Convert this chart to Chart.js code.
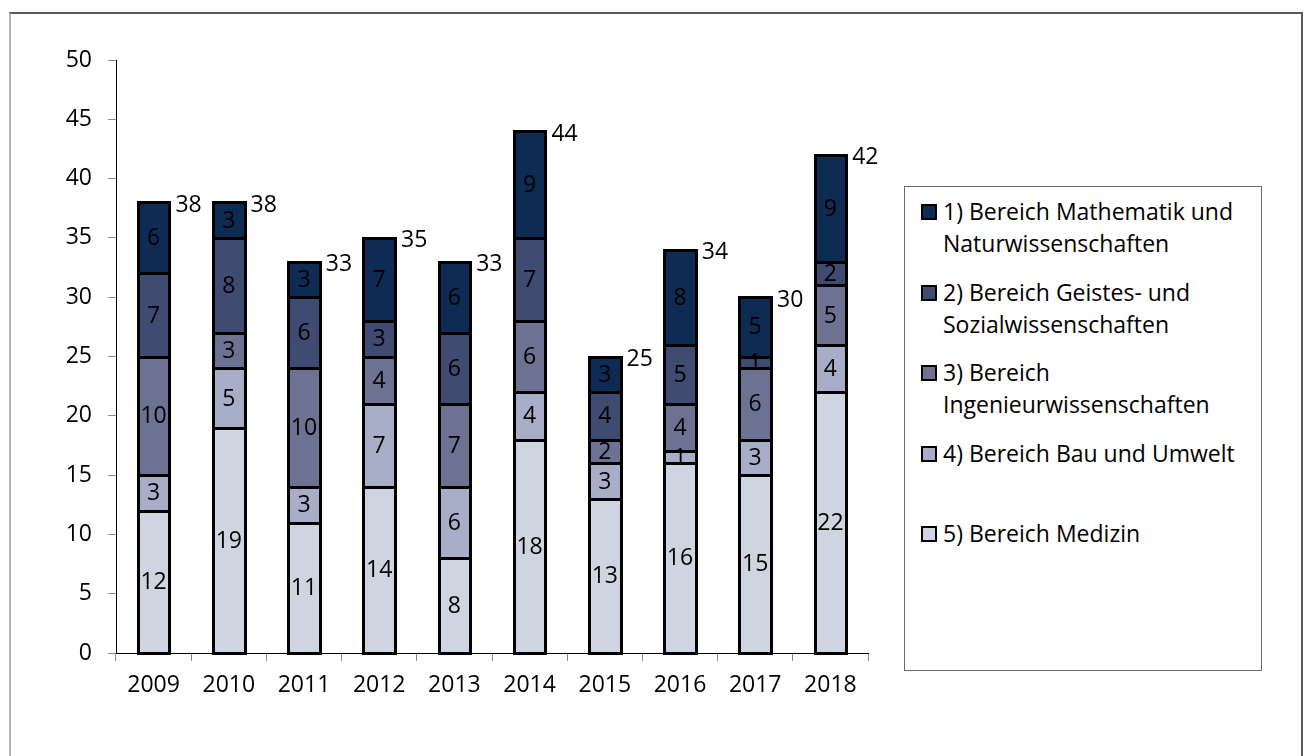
<!DOCTYPE html>
<html>
<head>
<meta charset="utf-8">
<script src="https://cdn.jsdelivr.net/npm/chart.js@4"></script>
<style>
	body { margin: 0; background: #fff; font-family: "Open Sans", sans-serif; }
	#wrap { position: relative; width: 1306px; height: 756px; overflow: hidden; }
	#frame {
		position: absolute; left: 9px; top: 12px; width: 1290px; height: 760px;
		border-left: 2px solid #b4b4b4; border-top: 2px solid #585858; border-right: 2px solid #585858;
	}
	#legend {
		position: absolute; left: 904px; top: 186px; width: 356px; height: 483px;
		border: 1px solid #6a6a6a; background: #fff;
	}
	.item { position: absolute; left: 16px; font-size: 23px; line-height: 32px; color: #000; }
	.box {
		position: absolute; left: 0; top: 9px; width: 12px; height: 12px;
		border: 2px solid #000;
	}
	.txt { position: absolute; left: 22px; white-space: nowrap; }
</style>
</head>
<body>
<div id="wrap">
	<div id="frame"></div>
	<canvas id="myChart" width="1306" height="756"></canvas>
	<div id="legend"></div>
</div>
<script>
// categories
const years = ["2009", "2010", "2011", "2012", "2013", "2014", "2015", "2016", "2017", "2018"];

// series, bottom to top
const medizin = [12, 19, 11, 14, 8, 18, 13, 16, 15, 22];
const bauUmwelt = [3, 5, 3, 7, 6, 4, 3, 1, 3, 4];
const ingenieur = [10, 3, 10, 4, 7, 6, 2, 4, 6, 5];
const geistesSozial = [7, 8, 6, 3, 6, 7, 4, 5, 1, 2];
const matheNatur = [6, 3, 3, 7, 6, 9, 3, 8, 5, 9];

const yTicks = [0, 5, 10, 15, 20, 25, 30, 35, 40, 45, 50];

const seriesNames = [
	"5) Bereich Medizin",
	"4) Bereich Bau und Umwelt",
	"3) Bereich Ingenieurwissenschaften",
	"2) Bereich Geistes- und Sozialwissenschaften",
	"1) Bereich Mathematik und Naturwissenschaften",
];
const legendLines = [
	["1) Bereich Mathematik und", "Naturwissenschaften"],
	["2) Bereich Geistes- und", "Sozialwissenschaften"],
	["3) Bereich", "Ingenieurwissenschaften"],
	["4) Bereich Bau und Umwelt"],
	["5) Bereich Medizin"],
];
const seriesColors = ["#cfd4e1", "#a9aec8", "#6d7293", "#3f4b70", "#0d2b53"];
const seriesData = [medizin, bauUmwelt, ingenieur, geistesSozial, matheNatur];

const FONT = "Open Sans";

// html legend, top entry first
const legend = document.getElementById("legend");
legendLines.forEach((lines, i) => {
	const colorIdx = seriesColors.length - 1 - i;
	const item = document.createElement("div");
	item.className = "item";
	item.style.top = (8 + i * 80.5) + "px";
	const box = document.createElement("div");
	box.className = "box";
	box.style.background = seriesColors[colorIdx];
	const txt = document.createElement("div");
	txt.className = "txt";
	txt.innerHTML = lines.join("<br>");
	item.appendChild(box);
	item.appendChild(txt);
	legend.appendChild(item);
});

// crisp outlines, numbers inside segments and totals above each bar
const labelPlugin = {
	id: "labels",
	afterDatasetsDraw(chart) {
		const ctx = chart.ctx;
		ctx.save();
		ctx.strokeStyle = "#000";
		ctx.lineWidth = 3;
		chart.data.datasets.forEach((ds, di) => {
			chart.getDatasetMeta(di).data.forEach((bar) => {
				const x0 = Math.round(bar.x - bar.width / 2);
				const x1 = Math.round(bar.x + bar.width / 2);
				const y0 = Math.round(bar.y);
				const y1 = Math.round(bar.base);
				ctx.strokeRect(x0 + 0.5, y0 + 0.5, x1 - x0, y1 - y0);
			});
		});

		ctx.font = "23px '" + FONT + "'";
		ctx.fillStyle = "#000";
		ctx.textBaseline = "middle";
		ctx.textAlign = "center";
		chart.data.datasets.forEach((ds, di) => {
			const meta = chart.getDatasetMeta(di);
			meta.data.forEach((bar, i) => {
				ctx.fillText(String(ds.data[i]), bar.x, (bar.y + bar.base) / 2 + 1);
			});
		});
		const topMeta = chart.getDatasetMeta(chart.data.datasets.length - 1);
		ctx.textAlign = "left";
		topMeta.data.forEach((bar, i) => {
			const total = seriesData.reduce((s, arr) => s + arr[i], 0);
			ctx.fillText(String(total), bar.x + bar.width / 2 + 6, bar.y + 3);
		});
		ctx.restore();
	},
};

const ctx = document.getElementById("myChart");

new Chart(ctx, {
	type: "bar",
	data: {
		labels: years,
		datasets: seriesNames.map((name, i) => ({
			label: name,
			data: seriesData[i],
			backgroundColor: seriesColors[i],
			borderWidth: 0,
			inflateAmount: 0,
			barPercentage: 0.42,
			categoryPercentage: 1,
		})),
	},
	options: {
		responsive: false,
		animation: false,
		devicePixelRatio: 1,
		layout: { padding: { left: 20, right: 438, top: 60, bottom: 0 } },
		plugins: { legend: { display: false }, tooltip: { enabled: false } },
		scales: {
			x: {
				stacked: true,
				afterFit: (s) => { s.height = 103; },
				grid: { offset: true, drawOnChartArea: false, tickLength: 8, color: "#8c8c8c" },
				border: { color: "#000", width: 1 },
				ticks: { color: "#000", font: { family: FONT, size: 23 }, padding: 11 },
			},
			y: {
				stacked: true,
				min: 0,
				max: 50,
				afterFit: (s) => { s.width = 96; },
				afterBuildTicks: (s) => { s.ticks = yTicks.map((v) => ({ value: v })); },
				grid: { drawOnChartArea: false, tickLength: 8, color: "#8c8c8c" },
				border: { color: "#000", width: 1 },
				ticks: { color: "#000", font: { family: FONT, size: 23 }, padding: 16 },
			},
		},
	},
	plugins: [labelPlugin],
});
</script>
</body>
</html>
